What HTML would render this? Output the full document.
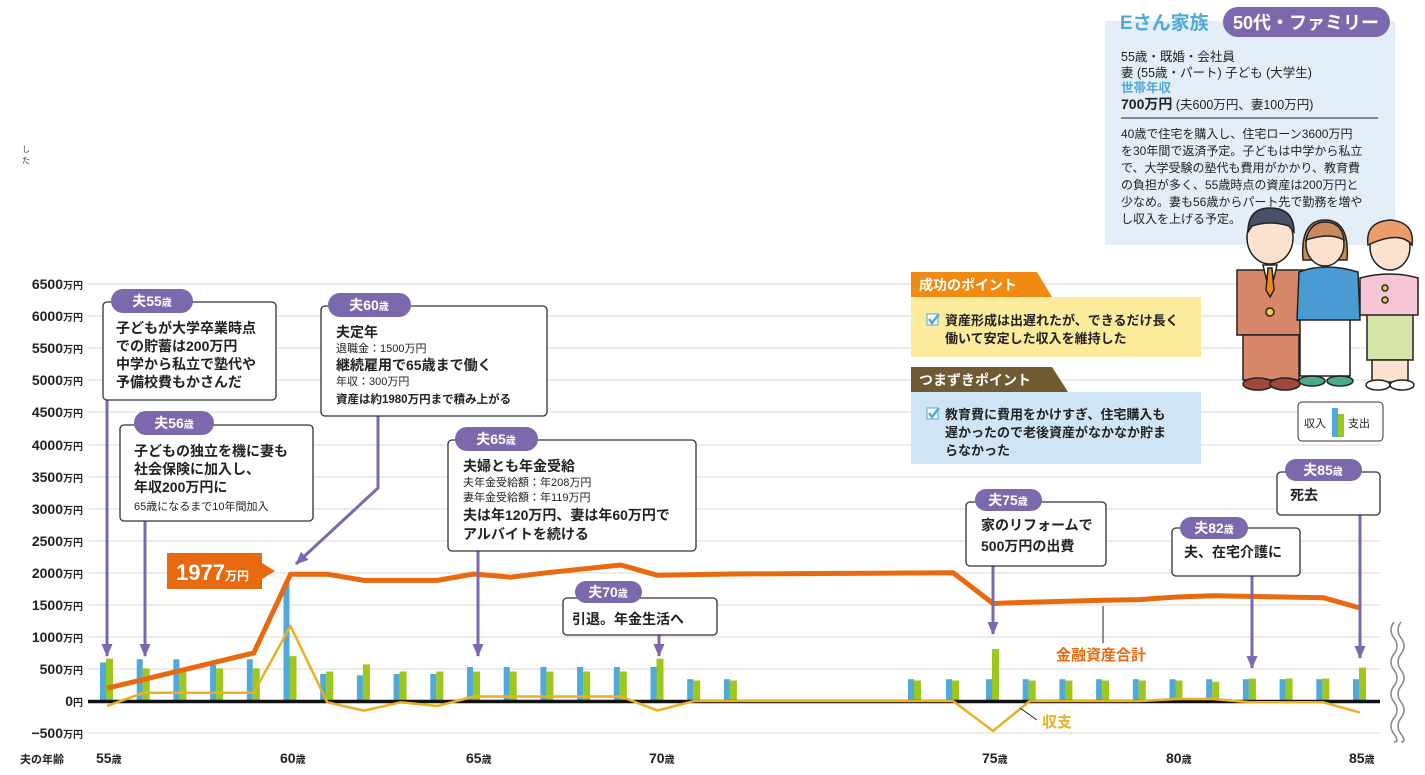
<!DOCTYPE html>
<html><head><meta charset="utf-8"><style>
html,body{margin:0;padding:0;background:#fff;}
svg{display:block;font-family:"Liberation Sans","Noto Sans CJK JP",sans-serif;}
</style></head><body>
<svg width="1425" height="775" viewBox="0 0 1425 775" xmlns="http://www.w3.org/2000/svg">
<defs>
<marker id="ah" markerWidth="13" markerHeight="11" refX="12" refY="5.5" orient="auto" markerUnits="userSpaceOnUse">
<path d="M0,0 L13,5.5 L0,11 Z" fill="#7b68ad"/></marker>
</defs>
<g stroke="#d9d9d9" stroke-width="1">
<line x1="88" y1="284" x2="1380" y2="284"/><line x1="88" y1="316" x2="1380" y2="316"/><line x1="88" y1="348" x2="1380" y2="348"/><line x1="88" y1="380" x2="1380" y2="380"/><line x1="88" y1="412" x2="1380" y2="412"/><line x1="88" y1="445" x2="1380" y2="445"/><line x1="88" y1="477" x2="1380" y2="477"/><line x1="88" y1="509" x2="1380" y2="509"/><line x1="88" y1="541" x2="1380" y2="541"/><line x1="88" y1="573" x2="1380" y2="573"/><line x1="88" y1="605" x2="1380" y2="605"/><line x1="88" y1="637" x2="1380" y2="637"/><line x1="88" y1="669" x2="1380" y2="669"/><line x1="88" y1="733" x2="1380" y2="733"/>
</g>
<g font-size="14" font-weight="bold" fill="#222" text-anchor="end">
<text x="83" y="289">6500<tspan font-size="10">万円</tspan></text>
<text x="83" y="321">6000<tspan font-size="10">万円</tspan></text>
<text x="83" y="353">5500<tspan font-size="10">万円</tspan></text>
<text x="83" y="385">5000<tspan font-size="10">万円</tspan></text>
<text x="83" y="417">4500<tspan font-size="10">万円</tspan></text>
<text x="83" y="450">4000<tspan font-size="10">万円</tspan></text>
<text x="83" y="482">3500<tspan font-size="10">万円</tspan></text>
<text x="83" y="514">3000<tspan font-size="10">万円</tspan></text>
<text x="83" y="546">2500<tspan font-size="10">万円</tspan></text>
<text x="83" y="578">2000<tspan font-size="10">万円</tspan></text>
<text x="83" y="610">1500<tspan font-size="10">万円</tspan></text>
<text x="83" y="642">1000<tspan font-size="10">万円</tspan></text>
<text x="83" y="674">500<tspan font-size="10">万円</tspan></text>
<text x="83" y="706">0<tspan font-size="10">円</tspan></text>
<text x="83" y="738">−500<tspan font-size="10">万円</tspan></text>
</g>
<g font-size="14" font-weight="bold" fill="#222">
<text x="20" y="763" font-size="11">夫の年齢</text>
<text x="96" y="763">55<tspan font-size="10">歳</tspan></text>
<text x="280" y="763">60<tspan font-size="10">歳</tspan></text>
<text x="466" y="763">65<tspan font-size="10">歳</tspan></text>
<text x="649" y="763">70<tspan font-size="10">歳</tspan></text>
<text x="982" y="763">75<tspan font-size="10">歳</tspan></text>
<text x="1166" y="763">80<tspan font-size="10">歳</tspan></text>
<text x="1349" y="763">85<tspan font-size="10">歳</tspan></text>
</g>
<text x="22" y="152" font-size="8" fill="#333">し</text><text x="22" y="163" font-size="8" fill="#333">た</text>
<g fill="#4fa9d9">
<rect x="100" y="662.5" width="6" height="38.5"/><rect x="136.7" y="659.3" width="6" height="41.7"/><rect x="173.4" y="659.3" width="6" height="41.7"/><rect x="210.1" y="665" width="6" height="36"/><rect x="246.8" y="659.3" width="6" height="41.7"/><rect x="283.5" y="582.3" width="6" height="118.7"/><rect x="320.2" y="674" width="6" height="27"/><rect x="356.9" y="675.3" width="6" height="25.7"/><rect x="393.6" y="674" width="6" height="27"/><rect x="430.3" y="674" width="6" height="27"/><rect x="467" y="667" width="6" height="34"/><rect x="503.7" y="667" width="6" height="34"/><rect x="540.4" y="667" width="6" height="34"/><rect x="577.1" y="667" width="6" height="34"/><rect x="613.8" y="667" width="6" height="34"/><rect x="650.5" y="667" width="6" height="34"/><rect x="687.2" y="679.2" width="6" height="21.8"/><rect x="723.9" y="679.2" width="6" height="21.8"/><rect x="908" y="679.2" width="6" height="21.8"/><rect x="946" y="679.2" width="6" height="21.8"/><rect x="986" y="679.2" width="6" height="21.8"/><rect x="1022.7" y="679.2" width="6" height="21.8"/><rect x="1059.4" y="679.2" width="6" height="21.8"/><rect x="1096.1" y="679.2" width="6" height="21.8"/><rect x="1132.8" y="679.2" width="6" height="21.8"/><rect x="1169.5" y="679.2" width="6" height="21.8"/><rect x="1206.2" y="679.2" width="6" height="21.8"/><rect x="1242.9" y="679.2" width="6" height="21.8"/><rect x="1279.6" y="679.2" width="6" height="21.8"/><rect x="1316.3" y="679.2" width="6" height="21.8"/><rect x="1353" y="679.2" width="6" height="21.8"/>
</g>
<g fill="#9cc81e">
<rect x="106" y="658.7" width="7" height="42.3"/><rect x="142.7" y="668.3" width="7" height="32.7"/><rect x="179.4" y="670.2" width="7" height="30.8"/><rect x="216.1" y="668.3" width="7" height="32.7"/><rect x="252.8" y="668.3" width="7" height="32.7"/><rect x="289.5" y="656.1" width="7" height="44.9"/><rect x="326.2" y="671.5" width="7" height="29.5"/><rect x="362.9" y="664.4" width="7" height="36.6"/><rect x="399.6" y="671.5" width="7" height="29.5"/><rect x="436.3" y="671.5" width="7" height="29.5"/><rect x="473" y="671.5" width="7" height="29.5"/><rect x="509.7" y="671.5" width="7" height="29.5"/><rect x="546.4" y="671.5" width="7" height="29.5"/><rect x="583.1" y="671.5" width="7" height="29.5"/><rect x="619.8" y="671.5" width="7" height="29.5"/><rect x="656.5" y="658.7" width="7" height="42.3"/><rect x="693.2" y="680.5" width="7" height="20.5"/><rect x="729.9" y="680.5" width="7" height="20.5"/><rect x="914" y="680.5" width="7" height="20.5"/><rect x="952" y="680.5" width="7" height="20.5"/><rect x="992" y="649" width="7" height="52"/><rect x="1028.7" y="680.5" width="7" height="20.5"/><rect x="1065.4" y="680.5" width="7" height="20.5"/><rect x="1102.1" y="680.5" width="7" height="20.5"/><rect x="1138.8" y="680.5" width="7" height="20.5"/><rect x="1175.5" y="680.5" width="7" height="20.5"/><rect x="1212.2" y="681.8" width="7" height="19.2"/><rect x="1248.9" y="678.5" width="7" height="22.5"/><rect x="1285.6" y="678.5" width="7" height="22.5"/><rect x="1322.3" y="678.5" width="7" height="22.5"/><rect x="1359" y="667.6" width="7" height="33.4"/>
</g>
<line x1="88" y1="701.5" x2="1380" y2="701.5" stroke="#111" stroke-width="3.5"/>
<polyline fill="none" stroke="#eab021" stroke-width="2.5" stroke-linejoin="round" points="107,706 143.7,692.7 253.8,692.7 290.5,625.9 327.2,702.3 363.9,710.6 400.6,702.3 437.3,706 474,696.5 620.8,696.5 657.5,710.6 694.2,701 953,701 993,731 1029.7,701 1139.8,701 1176.5,699 1213.2,699 1249.9,702.3 1323.3,702.3 1360,712.6"/>
<polyline fill="none" stroke="#e8690e" stroke-width="5" stroke-linejoin="round" points="107,688.2 253.8,652.9 290.5,574.2 327.2,574.2 363.9,580.4 437.3,580.4 474,574 510.7,577.2 547.4,572.7 584.1,568.8 620.8,565 657.5,575.3 694.2,574.6 730.9,574 953,572.7 993,603.5 1029.7,602.2 1103.1,600.3 1139.8,599.6 1176.5,597 1213.2,595.8 1249.9,596.4 1323.3,597.7 1360,608"/>
<line x1="1103" y1="606" x2="1103" y2="643" stroke="#222" stroke-width="1"/>
<text x="1056" y="660" font-size="15" font-weight="bold" fill="#e8690e">金融資産合計</text>
<line x1="1020" y1="708" x2="1037" y2="720" stroke="#222" stroke-width="1"/>
<text x="1042" y="727" font-size="15" font-weight="bold" fill="#eab021">収支</text>
<path d="M1394,622 q-6,8 0,16 q6,8 0,16 q-6,8 0,16 q6,8 0,16 q-6,8 0,16 q6,8 0,16 q-6,8 0,16 q6,8 0,8" fill="none" stroke="#888" stroke-width="1.5"/>
<path d="M1401,622 q-6,8 0,16 q6,8 0,16 q-6,8 0,16 q6,8 0,16 q-6,8 0,16 q6,8 0,16 q-6,8 0,16 q6,8 0,8" fill="none" stroke="#888" stroke-width="1.5"/>
<path d="M167,553 H262 V563 L275,571 L262,579 V589 H167 Z" fill="#e8690e"/>
<text x="176" y="580" font-size="22" font-weight="bold" fill="#fff">1977<tspan font-size="12">万円</tspan></text>
<g stroke="#7b68ad" stroke-width="3" fill="none">
<line x1="107" y1="400" x2="107" y2="656" marker-end="url(#ah)"/>
<line x1="145" y1="521" x2="145" y2="656" marker-end="url(#ah)"/>
<polyline points="378,415 378,488 296,564" marker-end="url(#ah)"/>
<line x1="478" y1="551" x2="478" y2="656" marker-end="url(#ah)"/>
<line x1="659" y1="634" x2="659" y2="656" marker-end="url(#ah)"/>
<line x1="993" y1="566" x2="993" y2="634" marker-end="url(#ah)"/>
<line x1="1252" y1="576" x2="1252" y2="668" marker-end="url(#ah)"/>
<line x1="1360" y1="515" x2="1360" y2="658" marker-end="url(#ah)"/>
</g>
<g stroke="#333" stroke-width="1.3" fill="#fff">
<rect x="103" y="302" width="173" height="98" rx="4"/>
<rect x="120" y="425" width="193" height="96" rx="4"/>
<rect x="321" y="306" width="226" height="110" rx="4"/>
<rect x="448" y="440" width="248" height="111" rx="4"/>
<rect x="563" y="598" width="154" height="37" rx="4"/>
<rect x="966" y="502" width="140" height="64" rx="4"/>
<rect x="1172" y="528" width="128" height="48" rx="4"/>
<rect x="1277" y="472" width="103" height="43" rx="4"/>
</g>
<g fill="#7b68ad">
<rect x="111" y="289" width="82" height="24" rx="12"/>
<rect x="134" y="411" width="80" height="24" rx="12"/>
<rect x="328" y="293" width="83" height="24" rx="12"/>
<rect x="455" y="427" width="83" height="24" rx="12"/>
<rect x="575" y="581" width="67" height="22" rx="11"/>
<rect x="975" y="489" width="67" height="22" rx="11"/>
<rect x="1180" y="517" width="68" height="22" rx="11"/>
<rect x="1285" y="459" width="77" height="22" rx="11"/>
</g>
<g fill="#fff" font-size="14" font-weight="bold" text-anchor="middle">
<text x="152" y="306">夫55<tspan font-size="10">歳</tspan></text>
<text x="174" y="428">夫56<tspan font-size="10">歳</tspan></text>
<text x="369" y="310">夫60<tspan font-size="10">歳</tspan></text>
<text x="496" y="444">夫65<tspan font-size="10">歳</tspan></text>
<text x="608" y="597">夫70<tspan font-size="10">歳</tspan></text>
<text x="1008" y="505">夫75<tspan font-size="10">歳</tspan></text>
<text x="1214" y="533">夫82<tspan font-size="10">歳</tspan></text>
<text x="1323" y="475">夫85<tspan font-size="10">歳</tspan></text>
</g>
<g fill="#222" font-size="14" font-weight="bold">
<text x="116" y="333">子どもが大学卒業時点</text>
<text x="116" y="351">での貯蓄は200万円</text>
<text x="116" y="369">中学から私立で塾代や</text>
<text x="116" y="387">予備校費もかさんだ</text>
<text x="134" y="456">子どもの独立を機に妻も</text>
<text x="134" y="474">社会保険に加入し、</text>
<text x="134" y="492">年収200万円に</text>
<text x="134" y="510" font-size="11" font-weight="normal">65歳になるまで10年間加入</text>
<text x="336" y="337">夫定年</text>
<text x="336" y="352" font-size="11" font-weight="normal">退職金：1500万円</text>
<text x="336" y="370">継続雇用で65歳まで働く</text>
<text x="336" y="385" font-size="11" font-weight="normal">年収：300万円</text>
<text x="336" y="403" font-size="11.5">資産は約1980万円まで積み上がる</text>
<text x="463" y="471">夫婦とも年金受給</text>
<text x="463" y="486" font-size="11" font-weight="normal">夫年金受給額：年208万円</text>
<text x="463" y="501" font-size="11" font-weight="normal">妻年金受給額：年119万円</text>
<text x="463" y="520">夫は年120万円、妻は年60万円で</text>
<text x="463" y="539">アルバイトを続ける</text>
<text x="572" y="624">引退。年金生活へ</text>
<text x="981" y="530">家のリフォームで</text>
<text x="981" y="551">500万円の出費</text>
<text x="1184" y="557">夫、在宅介護に</text>
<text x="1290" y="500">死去</text>
</g>
<path d="M911,272 H1037 L1052,297 H911 Z" fill="#ef8a12"/>
<rect x="911" y="297" width="290" height="60" fill="#fdeb9c"/>
<text x="919" y="290" font-size="14" font-weight="bold" fill="#fff">成功のポイント</text>
<rect x="927" y="314" width="11" height="11" fill="#fff" stroke="#4fa9d9"/><path d="M929,319 l3,4 l7,-9" stroke="#4fa9d9" stroke-width="2.5" fill="none"/>
<g font-size="13" font-weight="bold" fill="#222"><text x="945" y="325">資産形成は出遅れたが、できるだけ長く</text><text x="945" y="343">働いて安定した収入を維持した</text></g>
<path d="M911,367 H1052 L1068,392 H911 Z" fill="#6f5a32"/>
<rect x="911" y="392" width="290" height="72" fill="#cfe5f5"/>
<text x="919" y="385" font-size="14" font-weight="bold" fill="#fff">つまずきポイント</text>
<rect x="927" y="408" width="11" height="11" fill="#fff" stroke="#4fa9d9"/><path d="M929,413 l3,4 l7,-9" stroke="#4fa9d9" stroke-width="2.5" fill="none"/>
<g font-size="13" font-weight="bold" fill="#222"><text x="945" y="419">教育費に費用をかけすぎ、住宅購入も</text><text x="945" y="437">遅かったので老後資産がなかなか貯ま</text><text x="945" y="455">らなかった</text></g>
<rect x="1298" y="402" width="85" height="39" rx="4" fill="#fff" stroke="#333"/>
<text x="1304" y="427" font-size="11" fill="#222">収入</text>
<rect x="1332" y="408" width="6" height="29" fill="#4fa9d9"/><rect x="1338" y="414" width="6" height="23" fill="#9cc81e"/>
<text x="1348" y="427" font-size="11" fill="#222">支出</text>
<rect x="1105" y="21" width="290" height="224" fill="#e3eef9"/>
<text x="1120" y="29" font-size="19" font-weight="bold" fill="#4fa9d9">Eさん家族</text>
<rect x="1223" y="7" width="167" height="30" rx="15" fill="#7b68ad"/>
<text x="1306" y="29" font-size="18" font-weight="bold" fill="#fff" text-anchor="middle">50代・ファミリー</text>
<g font-size="12.5" fill="#222">
<text x="1121" y="61">55歳・既婚・会社員</text>
<text x="1121" y="77">妻 (55歳・パート) 子ども (大学生)</text>
<text x="1121" y="92" fill="#4fa9d9" font-weight="bold">世帯年収</text>
<text x="1121" y="109"><tspan font-weight="bold" font-size="14">700万円</tspan> (夫600万円、妻100万円)</text>
</g>
<line x1="1121" y1="118" x2="1378" y2="118" stroke="#222" stroke-width="1"/>
<g font-size="12" fill="#222">
<text x="1121" y="138">40歳で住宅を購入し、住宅ローン3600万円</text>
<text x="1121" y="155">を30年間で返済予定。子どもは中学から私立</text>
<text x="1121" y="172">で、大学受験の塾代も費用がかかり、教育費</text>
<text x="1121" y="189">の負担が多く、55歳時点の資産は200万円と</text>
<text x="1121" y="206">少なめ。妻も56歳からパート先で勤務を増や</text>
<text x="1121" y="223">し収入を上げる予定。</text>
</g>
<g stroke="#222" stroke-width="1.5">
<path d="M1237,270 L1303,270 L1305,335 L1237,335 Z" fill="#d9876a"/>
<rect x="1243" y="335" width="56" height="45" fill="#d9876a"/>
<ellipse cx="1258" cy="384" rx="15" ry="6" fill="#a0493a"/><ellipse cx="1285" cy="384" rx="15" ry="6" fill="#a0493a"/>
<path d="M1263,265 L1277,265 L1270,295 Z" fill="#fff"/><path d="M1268,268 L1272,268 L1274,290 L1270,297 L1266,290 Z" fill="#ef8a12"/>
<circle cx="1270" cy="312" r="4" fill="#f5c842"/>
<ellipse cx="1270" cy="238" rx="23" ry="26" fill="#fde3cf"/>
<path d="M1248,232 Q1248,208 1270,208 Q1294,208 1294,232 L1289,226 Q1270,220 1252,226 Z" fill="#4a4f6a"/>
<rect x="1300" y="318" width="50" height="58" fill="#fff"/>
<ellipse cx="1312" cy="381" rx="13" ry="5" fill="#4aab8c"/><ellipse cx="1340" cy="381" rx="13" ry="5" fill="#4aab8c"/>
<path d="M1299,272 Q1325,262 1358,272 L1360,320 L1297,320 Z" fill="#4a9bd4"/>
<path d="M1303,260 Q1300,220 1325,220 Q1350,220 1347,260 Z" fill="#c98a5a"/>
<ellipse cx="1325" cy="244" rx="19" ry="22" fill="#fde3cf"/>
<path d="M1306,240 Q1310,222 1325,222 Q1342,222 1344,240 Q1330,232 1306,240 Z" fill="#c98a5a"/>
<rect x="1367" y="312" width="46" height="48" fill="#d6e6a8"/>
<rect x="1372" y="360" width="36" height="22" fill="#fde3cf"/>
<ellipse cx="1378" cy="385" rx="12" ry="5" fill="#fff"/><ellipse cx="1402" cy="385" rx="12" ry="5" fill="#fff"/>
<path d="M1360,278 Q1390,270 1418,278 L1418,315 L1360,315 Z" fill="#f7c6d4"/>
<circle cx="1385" cy="288" r="3" fill="#f5c842"/><circle cx="1385" cy="300" r="3" fill="#f5c842"/>
<ellipse cx="1390" cy="247" rx="20" ry="23" fill="#fde3cf"/>
<path d="M1368,245 Q1365,222 1390,220 Q1415,222 1412,245 Q1400,230 1368,245 Z" fill="#eb9c6a"/>
</g>
</svg>
</body></html>
